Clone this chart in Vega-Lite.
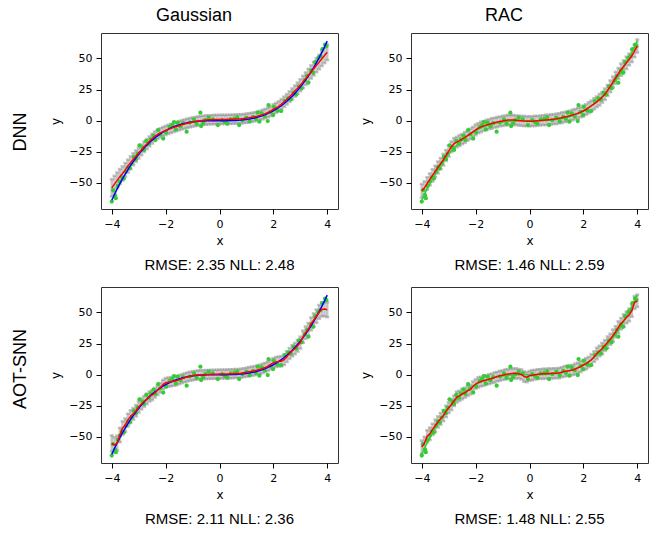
{
"$schema": "https://vega.github.io/schema/vega-lite/v6.json",
"padding": {"left": 12, "top": 6, "right": 5, "bottom": 5},
"background": "white",
"datasets": {
"curve": [
{"x":-4.0,"t":-64.0,"gd":-54.0,"gds":7.0,"rd":-56.4,"rds":5.5,"ga":-55.3,"gas":6.5,"ra":-58.3,"ras":5.4},
{"x":-3.9,"t":-59.32,"gd":-51.0,"gds":6.7,"rd":-54.0,"rds":5.2,"ga":-56.5,"gas":6.2,"ra":-55.0,"ras":5.0},
{"x":-3.8,"t":-54.87,"gd":-48.0,"gds":6.4,"rd":-50.5,"rds":5.0,"ga":-55.0,"gas":6.0,"ra":-49.5,"ras":4.8},
{"x":-3.7,"t":-50.65,"gd":-45.0,"gds":6.1,"rd":-47.2,"rds":4.8,"ga":-48.5,"gas":5.8,"ra":-47.5,"ras":5.0},
{"x":-3.6,"t":-46.66,"gd":-42.5,"gds":5.8,"rd":-44.0,"rds":5.0,"ga":-43.0,"gas":5.5,"ra":-44.0,"ras":4.6},
{"x":-3.5,"t":-42.88,"gd":-39.5,"gds":5.5,"rd":-40.8,"rds":4.6,"ga":-40.5,"gas":5.3,"ra":-41.0,"ras":4.9},
{"x":-3.4,"t":-39.30,"gd":-36.5,"gds":5.2,"rd":-37.6,"rds":4.8,"ga":-36.5,"gas":5.1,"ra":-38.0,"ras":4.5},
{"x":-3.3,"t":-35.94,"gd":-33.7,"gds":5.0,"rd":-34.5,"rds":4.5,"ga":-33.5,"gas":4.9,"ra":-35.5,"ras":4.7},
{"x":-3.2,"t":-32.77,"gd":-31.0,"gds":4.8,"rd":-31.4,"rds":4.7,"ga":-31.5,"gas":4.7,"ra":-33.0,"ras":4.4},
{"x":-3.1,"t":-29.79,"gd":-28.5,"gds":4.6,"rd":-28.0,"rds":4.4,"ga":-29.0,"gas":4.6,"ra":-29.5,"ras":4.6},
{"x":-3.0,"t":-27.0,"gd":-26.0,"gds":4.4,"rd":-24.5,"rds":4.6,"ga":-26.0,"gas":4.5,"ra":-26.5,"ras":4.3},
{"x":-2.9,"t":-24.39,"gd":-23.5,"gds":4.3,"rd":-21.0,"rds":4.3,"ga":-23.5,"gas":4.4,"ra":-24.0,"ras":4.5},
{"x":-2.8,"t":-21.95,"gd":-21.0,"gds":4.2,"rd":-18.5,"rds":4.5,"ga":-21.5,"gas":4.3,"ra":-21.0,"ras":4.2},
{"x":-2.7,"t":-19.68,"gd":-18.8,"gds":4.1,"rd":-17.2,"rds":4.2,"ga":-19.5,"gas":4.2,"ra":-18.0,"ras":4.4},
{"x":-2.6,"t":-17.58,"gd":-16.6,"gds":4.0,"rd":-16.0,"rds":4.4,"ga":-17.5,"gas":4.1,"ra":-17.0,"ras":4.1},
{"x":-2.5,"t":-15.63,"gd":-14.5,"gds":3.9,"rd":-14.8,"rds":4.1,"ga":-16.5,"gas":4.0,"ra":-15.5,"ras":4.3},
{"x":-2.4,"t":-13.82,"gd":-12.5,"gds":3.8,"rd":-13.5,"rds":4.3,"ga":-14.5,"gas":3.9,"ra":-14.5,"ras":4.0},
{"x":-2.3,"t":-12.17,"gd":-11.0,"gds":3.7,"rd":-12.1,"rds":4.0,"ga":-12.5,"gas":3.9,"ra":-13.0,"ras":4.2},
{"x":-2.2,"t":-10.65,"gd":-9.8,"gds":3.7,"rd":-10.6,"rds":4.2,"ga":-10.5,"gas":3.8,"ra":-12.0,"ras":3.9},
{"x":-2.1,"t":-9.26,"gd":-8.8,"gds":3.7,"rd":-9.0,"rds":4.0,"ga":-8.0,"gas":3.8,"ra":-9.5,"ras":4.1},
{"x":-2.0,"t":-8.0,"gd":-7.9,"gds":3.7,"rd":-7.4,"rds":4.3,"ga":-6.5,"gas":3.8,"ra":-7.5,"ras":3.9},
{"x":-1.9,"t":-6.86,"gd":-7.0,"gds":3.7,"rd":-6.0,"rds":4.0,"ga":-6.0,"gas":3.7,"ra":-6.2,"ras":4.2},
{"x":-1.8,"t":-5.83,"gd":-6.2,"gds":3.7,"rd":-5.0,"rds":4.2,"ga":-5.6,"gas":3.7,"ra":-5.5,"ras":3.9},
{"x":-1.7,"t":-4.91,"gd":-5.4,"gds":3.7,"rd":-4.2,"rds":3.9,"ga":-5.2,"gas":3.7,"ra":-4.8,"ras":4.1},
{"x":-1.6,"t":-4.10,"gd":-4.7,"gds":3.7,"rd":-3.4,"rds":4.1,"ga":-4.8,"gas":3.7,"ra":-4.2,"ras":3.8},
{"x":-1.5,"t":-3.38,"gd":-4.0,"gds":3.7,"rd":-2.8,"rds":3.9,"ga":-4.0,"gas":3.6,"ra":-3.6,"ras":4.0},
{"x":-1.4,"t":-2.74,"gd":-3.3,"gds":3.7,"rd":-2.2,"rds":4.2,"ga":-3.2,"gas":3.6,"ra":-3.0,"ras":3.8},
{"x":-1.3,"t":-2.20,"gd":-2.7,"gds":3.7,"rd":-1.6,"rds":3.9,"ga":-2.5,"gas":3.6,"ra":-2.3,"ras":4.1},
{"x":-1.2,"t":-1.73,"gd":-2.1,"gds":3.7,"rd":-1.1,"rds":4.1,"ga":-1.9,"gas":3.6,"ra":-1.5,"ras":3.8},
{"x":-1.1,"t":-1.33,"gd":-1.6,"gds":3.7,"rd":-0.6,"rds":3.8,"ga":-1.3,"gas":3.6,"ra":-0.9,"ras":4.0},
{"x":-1.0,"t":-1.0,"gd":-1.1,"gds":3.7,"rd":-0.2,"rds":4.1,"ga":-0.9,"gas":3.6,"ra":-0.4,"ras":3.8},
{"x":-0.9,"t":-0.73,"gd":-0.7,"gds":3.7,"rd":0.2,"rds":3.9,"ga":-0.5,"gas":3.6,"ra":0.2,"ras":4.1},
{"x":-0.8,"t":-0.51,"gd":-0.3,"gds":3.7,"rd":0.5,"rds":4.2,"ga":-0.2,"gas":3.6,"ra":0.5,"ras":3.9},
{"x":-0.7,"t":-0.34,"gd":0.0,"gds":3.7,"rd":0.6,"rds":3.9,"ga":0.0,"gas":3.6,"ra":0.8,"ras":4.2},
{"x":-0.6,"t":-0.22,"gd":0.3,"gds":3.7,"rd":0.5,"rds":4.1,"ga":0.0,"gas":3.6,"ra":1.1,"ras":3.9},
{"x":-0.5,"t":-0.13,"gd":0.5,"gds":3.7,"rd":0.3,"rds":3.8,"ga":0.1,"gas":3.6,"ra":1.0,"ras":4.1},
{"x":-0.4,"t":-0.06,"gd":0.7,"gds":3.7,"rd":0.1,"rds":4.0,"ga":0.2,"gas":3.6,"ra":0.8,"ras":3.8},
{"x":-0.3,"t":-0.03,"gd":0.8,"gds":3.7,"rd":-0.1,"rds":3.9,"ga":0.3,"gas":3.6,"ra":0.2,"ras":4.0},
{"x":-0.2,"t":-0.01,"gd":0.9,"gds":3.7,"rd":-0.3,"rds":4.1,"ga":0.3,"gas":3.6,"ra":-1.5,"ras":4.2},
{"x":-0.1,"t":0.0,"gd":1.0,"gds":3.7,"rd":-0.4,"rds":3.8,"ga":0.4,"gas":3.6,"ra":-2.0,"ras":4.0},
{"x":0.0,"t":0.0,"gd":1.0,"gds":3.7,"rd":-0.5,"rds":4.0,"ga":0.5,"gas":3.6,"ra":-0.9,"ras":3.9},
{"x":0.1,"t":0.0,"gd":1.0,"gds":3.7,"rd":-0.4,"rds":3.9,"ga":0.5,"gas":3.6,"ra":-0.4,"ras":4.1},
{"x":0.2,"t":0.01,"gd":1.0,"gds":3.7,"rd":-0.2,"rds":4.1,"ga":0.5,"gas":3.6,"ra":0.0,"ras":3.8},
{"x":0.3,"t":0.03,"gd":1.1,"gds":3.7,"rd":0.0,"rds":3.8,"ga":0.6,"gas":3.6,"ra":0.4,"ras":4.0},
{"x":0.4,"t":0.06,"gd":1.1,"gds":3.7,"rd":0.2,"rds":4.0,"ga":0.7,"gas":3.6,"ra":0.6,"ras":3.8},
{"x":0.5,"t":0.13,"gd":1.2,"gds":3.7,"rd":0.4,"rds":3.9,"ga":0.8,"gas":3.6,"ra":0.7,"ras":4.1},
{"x":0.6,"t":0.22,"gd":1.3,"gds":3.7,"rd":0.6,"rds":4.2,"ga":1.0,"gas":3.6,"ra":0.8,"ras":3.9},
{"x":0.7,"t":0.34,"gd":1.4,"gds":3.7,"rd":0.8,"rds":3.9,"ga":0.9,"gas":3.6,"ra":0.9,"ras":4.2},
{"x":0.8,"t":0.51,"gd":1.5,"gds":3.7,"rd":1.0,"rds":4.1,"ga":1.2,"gas":3.6,"ra":1.0,"ras":3.9},
{"x":0.9,"t":0.73,"gd":1.7,"gds":3.7,"rd":1.2,"rds":3.9,"ga":1.6,"gas":3.6,"ra":1.1,"ras":4.1},
{"x":1.0,"t":1.0,"gd":2.0,"gds":3.7,"rd":1.5,"rds":4.2,"ga":2.0,"gas":3.6,"ra":1.2,"ras":3.9},
{"x":1.1,"t":1.33,"gd":2.3,"gds":3.7,"rd":1.9,"rds":4.0,"ga":2.4,"gas":3.7,"ra":1.3,"ras":4.2},
{"x":1.2,"t":1.73,"gd":2.7,"gds":3.7,"rd":2.4,"rds":4.3,"ga":2.8,"gas":3.7,"ra":2.0,"ras":4.0},
{"x":1.3,"t":2.20,"gd":3.1,"gds":3.7,"rd":2.9,"rds":4.0,"ga":3.2,"gas":3.7,"ra":2.7,"ras":4.3},
{"x":1.4,"t":2.74,"gd":3.6,"gds":3.7,"rd":3.4,"rds":4.2,"ga":3.7,"gas":3.7,"ra":3.0,"ras":4.0},
{"x":1.5,"t":3.38,"gd":4.2,"gds":3.7,"rd":4.0,"rds":4.0,"ga":4.3,"gas":3.7,"ra":3.3,"ras":4.3},
{"x":1.6,"t":4.10,"gd":4.9,"gds":3.8,"rd":4.6,"rds":4.3,"ga":5.0,"gas":3.8,"ra":3.8,"ras":4.1},
{"x":1.7,"t":4.91,"gd":5.7,"gds":3.8,"rd":5.3,"rds":4.1,"ga":5.8,"gas":3.8,"ra":4.6,"ras":4.4},
{"x":1.8,"t":5.83,"gd":6.6,"gds":3.9,"rd":6.0,"rds":4.4,"ga":6.8,"gas":3.8,"ra":5.5,"ras":4.1},
{"x":1.9,"t":6.86,"gd":7.6,"gds":3.9,"rd":6.9,"rds":4.1,"ga":8.2,"gas":3.9,"ra":6.5,"ras":4.4},
{"x":2.0,"t":8.0,"gd":9.2,"gds":4.0,"rd":7.8,"rds":4.4,"ga":9.5,"gas":3.9,"ra":7.8,"ras":4.2},
{"x":2.1,"t":9.26,"gd":10.3,"gds":4.0,"rd":9.0,"rds":4.2,"ga":10.2,"gas":4.0,"ra":8.8,"ras":4.5},
{"x":2.2,"t":10.65,"gd":11.5,"gds":4.1,"rd":10.4,"rds":4.5,"ga":10.6,"gas":4.0,"ra":10.2,"ras":4.2},
{"x":2.3,"t":12.17,"gd":13.3,"gds":4.1,"rd":12.0,"rds":4.2,"ga":10.8,"gas":4.1,"ra":12.0,"ras":4.5},
{"x":2.4,"t":13.82,"gd":15.2,"gds":4.2,"rd":13.6,"rds":4.5,"ga":12.0,"gas":4.2,"ra":14.5,"ras":4.3},
{"x":2.5,"t":15.63,"gd":17.2,"gds":4.2,"rd":15.2,"rds":4.3,"ga":14.5,"gas":4.3,"ra":17.0,"ras":4.6},
{"x":2.6,"t":17.58,"gd":19.3,"gds":4.3,"rd":16.9,"rds":4.6,"ga":17.0,"gas":4.4,"ra":19.0,"ras":4.3},
{"x":2.7,"t":19.68,"gd":21.5,"gds":4.4,"rd":18.8,"rds":4.3,"ga":19.2,"gas":4.5,"ra":21.0,"ras":4.6},
{"x":2.8,"t":21.95,"gd":23.8,"gds":4.5,"rd":21.3,"rds":4.6,"ga":21.0,"gas":4.6,"ra":23.5,"ras":4.4},
{"x":2.9,"t":24.39,"gd":26.1,"gds":4.6,"rd":24.3,"rds":4.4,"ga":23.2,"gas":4.7,"ra":26.0,"ras":4.7},
{"x":3.0,"t":27.0,"gd":28.5,"gds":4.8,"rd":27.6,"rds":4.7,"ga":25.8,"gas":4.8,"ra":28.5,"ras":4.4},
{"x":3.1,"t":29.79,"gd":31.2,"gds":4.9,"rd":31.1,"rds":4.4,"ga":30.5,"gas":4.9,"ra":31.5,"ras":4.8},
{"x":3.2,"t":32.77,"gd":33.8,"gds":5.0,"rd":34.5,"rds":4.8,"ga":33.8,"gas":5.0,"ra":34.5,"ras":4.5},
{"x":3.3,"t":35.94,"gd":36.5,"gds":5.2,"rd":37.8,"rds":4.5,"ga":36.5,"gas":5.1,"ra":38.0,"ras":4.9},
{"x":3.4,"t":39.30,"gd":39.2,"gds":5.3,"rd":41.0,"rds":4.9,"ga":40.8,"gas":5.2,"ra":41.0,"ras":4.6},
{"x":3.5,"t":42.88,"gd":41.8,"gds":5.5,"rd":43.9,"rds":4.6,"ga":44.0,"gas":5.3,"ra":43.5,"ras":5.0},
{"x":3.6,"t":46.66,"gd":44.5,"gds":5.6,"rd":46.5,"rds":5.0,"ga":47.0,"gas":5.4,"ra":46.0,"ras":4.7},
{"x":3.7,"t":50.65,"gd":47.1,"gds":5.8,"rd":49.2,"rds":4.7,"ga":50.5,"gas":5.5,"ra":48.0,"ras":5.1},
{"x":3.8,"t":54.87,"gd":49.8,"gds":5.9,"rd":52.2,"rds":5.1,"ga":52.5,"gas":5.6,"ra":51.5,"ras":4.9},
{"x":3.9,"t":59.32,"gd":52.4,"gds":6.1,"rd":56.0,"rds":4.9,"ga":52.8,"gas":5.8,"ra":58.0,"ras":5.2},
{"x":4.0,"t":64.0,"gd":55.0,"gds":6.3,"rd":60.0,"rds":5.3,"ga":52.2,"gas":6.0,"ra":59.4,"ras":5.0}
],
"pts": [
{"x":-4.00,"y":-65.0},{"x":-3.95,"y":-55.9},{"x":-3.88,"y":-60.0},{"x":-3.85,"y":-62.3},{"x":-3.78,"y":-52.5},
{"x":-3.70,"y":-49.0},{"x":-3.62,"y":-45.5},{"x":-3.55,"y":-46.5},{"x":-3.47,"y":-41.0},{"x":-3.40,"y":-37.5},
{"x":-3.33,"y":-38.5},{"x":-3.26,"y":-34.5},{"x":-3.18,"y":-29.1},{"x":-3.10,"y":-31.0},{"x":-3.04,"y":-26.5},
{"x":-2.97,"y":-19.8},{"x":-2.85,"y":-21.7},{"x":-2.80,"y":-23.5},{"x":-2.72,"y":-16.3},{"x":-2.62,"y":-18.5},
{"x":-2.55,"y":-15.0},{"x":-2.45,"y":-12.0},{"x":-2.38,"y":-15.5},{"x":-2.28,"y":-7.5},{"x":-2.20,"y":-11.0},
{"x":-2.09,"y":-14.4},{"x":-1.98,"y":-9.5},{"x":-1.85,"y":-5.0},{"x":-1.76,"y":-3.5},{"x":-1.69,"y":-1.1},
{"x":-1.62,"y":-7.0},{"x":-1.55,"y":-1.6},{"x":-1.45,"y":-4.5},{"x":-1.35,"y":-2.0},{"x":-1.22,"y":-8.8},
{"x":-1.10,"y":-1.5},{"x":-0.95,"y":1.0},{"x":-0.85,"y":-2.5},{"x":-0.71,"y":6.4},{"x":-0.68,"y":-4.3},
{"x":-0.61,"y":-2.1},{"x":-0.53,"y":0.5},{"x":-0.40,"y":2.4},{"x":-0.25,"y":1.0},{"x":-0.06,"y":-3.5},
{"x":0.10,"y":0.5},{"x":0.20,"y":-1.0},{"x":0.29,"y":-2.4},{"x":0.42,"y":1.0},{"x":0.56,"y":1.6},
{"x":0.66,"y":2.7},{"x":0.73,"y":-3.5},{"x":0.85,"y":0.5},{"x":1.00,"y":2.5},{"x":1.12,"y":-0.5},
{"x":1.25,"y":3.0},{"x":1.35,"y":1.5},{"x":1.42,"y":6.4},{"x":1.48,"y":-0.8},{"x":1.57,"y":5.9},
{"x":1.68,"y":3.5},{"x":1.79,"y":-0.3},{"x":1.82,"y":12.6},{"x":1.90,"y":7.0},{"x":1.99,"y":4.5},
{"x":2.02,"y":11.2},{"x":2.15,"y":8.0},{"x":2.29,"y":7.7},{"x":2.42,"y":15.8},{"x":2.55,"y":18.0},
{"x":2.65,"y":17.0},{"x":2.75,"y":22.5},{"x":2.85,"y":21.0},{"x":2.95,"y":27.5},{"x":3.05,"y":26.0},
{"x":3.17,"y":32.6},{"x":3.25,"y":36.0},{"x":3.30,"y":30.5},{"x":3.40,"y":40.5},{"x":3.48,"y":38.5},
{"x":3.55,"y":47.0},{"x":3.67,"y":50.5},{"x":3.75,"y":52.0},{"x":3.82,"y":57.5},{"x":3.92,"y":61.2},
{"x":3.97,"y":60.0}
]
},
"vconcat": [
{
"title": {"text": "DNN", "orient": "left", "fontSize": 18, "anchor": "middle", "offset": 19, "dx": 8},
"hconcat": [
{
"title": {"text": "Gaussian", "fontSize": 18, "anchor": "middle", "offset": 8},
"vconcat": [
{
"width": 237, "height": 176,
"title": {"text": "RMSE: 2.35 NLL: 2.48", "orient": "bottom", "anchor": "middle", "offset": 12},
"layer": [
{"data": {"name": "curve"}, "mark": {"type": "errorbar", "ticks": {"size": 4}, "color": "#8c8c8c", "opacity": 0.5, "thickness": 2.5},
 "encoding": {"x": {"field": "x", "type": "quantitative", "scale": {"domain": [-4.4, 4.4], "nice": false, "zero": false}, "axis": {"values": [-4, -2, 0, 2, 4], "title": "x"}},
  "y": {"field": "gd", "type": "quantitative", "scale": {"domain": [-71, 70.5], "nice": false, "zero": false}, "axis": {"values": [-50, -25, 0, 25, 50], "title": "y"}},
  "yError": {"field": "gds"}}},
{"data": {"name": "pts"}, "mark": {"type": "circle", "size": 18, "color": "#32cd32", "opacity": 1},
 "encoding": {"x": {"field": "x", "type": "quantitative", "title": "x"}, "y": {"field": "y", "type": "quantitative", "title": "y"}}},
{"data": {"name": "curve"}, "mark": {"type": "line", "color": "#0000ff", "strokeWidth": 1.5},
 "encoding": {"x": {"field": "x", "type": "quantitative", "title": "x"}, "y": {"field": "t", "type": "quantitative", "title": "y"}}},
{"data": {"name": "curve"}, "mark": {"type": "line", "color": "#ff0000", "strokeWidth": 1.5},
 "encoding": {"x": {"field": "x", "type": "quantitative", "title": "x"}, "y": {"field": "gd", "type": "quantitative", "title": "y"}}}
]
}
]
},
{
"title": {"text": "RAC", "fontSize": 18, "anchor": "middle", "offset": 8},
"vconcat": [
{
"width": 237, "height": 176,
"title": {"text": "RMSE: 1.46 NLL: 2.59", "orient": "bottom", "anchor": "middle", "offset": 12},
"layer": [
{"data": {"name": "curve"}, "mark": {"type": "errorbar", "ticks": {"size": 4}, "color": "#8c8c8c", "opacity": 0.5, "thickness": 2.5},
 "encoding": {"x": {"field": "x", "type": "quantitative", "scale": {"domain": [-4.4, 4.4], "nice": false, "zero": false}, "axis": {"values": [-4, -2, 0, 2, 4], "title": "x"}},
  "y": {"field": "rd", "type": "quantitative", "scale": {"domain": [-71, 70.5], "nice": false, "zero": false}, "axis": {"values": [-50, -25, 0, 25, 50], "title": "y"}},
  "yError": {"field": "rds"}}},
{"data": {"name": "pts"}, "mark": {"type": "circle", "size": 18, "color": "#32cd32", "opacity": 1},
 "encoding": {"x": {"field": "x", "type": "quantitative", "title": "x"}, "y": {"field": "y", "type": "quantitative", "title": "y"}}},
{"data": {"name": "curve"}, "mark": {"type": "line", "color": "#32cd32", "strokeWidth": 1.5},
 "encoding": {"x": {"field": "x", "type": "quantitative", "title": "x"}, "y": {"field": "t", "type": "quantitative", "title": "y"}}},
{"data": {"name": "curve"}, "mark": {"type": "line", "color": "#ff0000", "strokeWidth": 1.5},
 "encoding": {"x": {"field": "x", "type": "quantitative", "title": "x"}, "y": {"field": "rd", "type": "quantitative", "title": "y"}}}
]
}
]
}
]
},
{
"title": {"text": "AOT-SNN", "orient": "left", "fontSize": 18, "anchor": "middle", "offset": 19, "dx": 38},
"hconcat": [
{
"width": 237, "height": 176,
"title": {"text": "RMSE: 2.11 NLL: 2.36", "orient": "bottom", "anchor": "middle", "offset": 12},
"layer": [
{"data": {"name": "curve"}, "mark": {"type": "errorbar", "ticks": {"size": 4}, "color": "#8c8c8c", "opacity": 0.5, "thickness": 2.5},
 "encoding": {"x": {"field": "x", "type": "quantitative", "scale": {"domain": [-4.4, 4.4], "nice": false, "zero": false}, "axis": {"values": [-4, -2, 0, 2, 4], "title": "x"}},
  "y": {"field": "ga", "type": "quantitative", "scale": {"domain": [-71, 70.5], "nice": false, "zero": false}, "axis": {"values": [-50, -25, 0, 25, 50], "title": "y"}},
  "yError": {"field": "gas"}}},
{"data": {"name": "pts"}, "mark": {"type": "circle", "size": 18, "color": "#32cd32", "opacity": 1},
 "encoding": {"x": {"field": "x", "type": "quantitative", "title": "x"}, "y": {"field": "y", "type": "quantitative", "title": "y"}}},
{"data": {"name": "curve"}, "mark": {"type": "line", "color": "#0000ff", "strokeWidth": 1.5},
 "encoding": {"x": {"field": "x", "type": "quantitative", "title": "x"}, "y": {"field": "t", "type": "quantitative", "title": "y"}}},
{"data": {"name": "curve"}, "mark": {"type": "line", "color": "#ff0000", "strokeWidth": 1.5},
 "encoding": {"x": {"field": "x", "type": "quantitative", "title": "x"}, "y": {"field": "ga", "type": "quantitative", "title": "y"}}}
]
},
{
"width": 237, "height": 176,
"title": {"text": "RMSE: 1.48 NLL: 2.55", "orient": "bottom", "anchor": "middle", "offset": 12},
"layer": [
{"data": {"name": "curve"}, "mark": {"type": "errorbar", "ticks": {"size": 4}, "color": "#8c8c8c", "opacity": 0.5, "thickness": 2.5},
 "encoding": {"x": {"field": "x", "type": "quantitative", "scale": {"domain": [-4.4, 4.4], "nice": false, "zero": false}, "axis": {"values": [-4, -2, 0, 2, 4], "title": "x"}},
  "y": {"field": "ra", "type": "quantitative", "scale": {"domain": [-71, 70.5], "nice": false, "zero": false}, "axis": {"values": [-50, -25, 0, 25, 50], "title": "y"}},
  "yError": {"field": "ras"}}},
{"data": {"name": "pts"}, "mark": {"type": "circle", "size": 18, "color": "#32cd32", "opacity": 1},
 "encoding": {"x": {"field": "x", "type": "quantitative", "title": "x"}, "y": {"field": "y", "type": "quantitative", "title": "y"}}},
{"data": {"name": "curve"}, "mark": {"type": "line", "color": "#32cd32", "strokeWidth": 1.5},
 "encoding": {"x": {"field": "x", "type": "quantitative", "title": "x"}, "y": {"field": "t", "type": "quantitative", "title": "y"}}},
{"data": {"name": "curve"}, "mark": {"type": "line", "color": "#ff0000", "strokeWidth": 1.5},
 "encoding": {"x": {"field": "x", "type": "quantitative", "title": "x"}, "y": {"field": "ra", "type": "quantitative", "title": "y"}}}
]
}
]
}
],
"spacing": 12,
"config": {
"view": {"stroke": "#333333", "strokeWidth": 1},
"concat": {"spacing": 20},
"axis": {"labelFont": "DejaVu Sans", "labelFontSize": 11, "labelColor": "#000000", "tickColor": "#000000", "tickSize": 5, "labelPadding": 4, "domain": false, "grid": false, "titleFont": "DejaVu Sans", "titleFontSize": 12, "titleFontWeight": "normal", "titleColor": "#000000", "titlePadding": 6},
"title": {"font": "Liberation Sans", "fontWeight": "normal", "color": "#000000", "fontSize": 15}
}
}
